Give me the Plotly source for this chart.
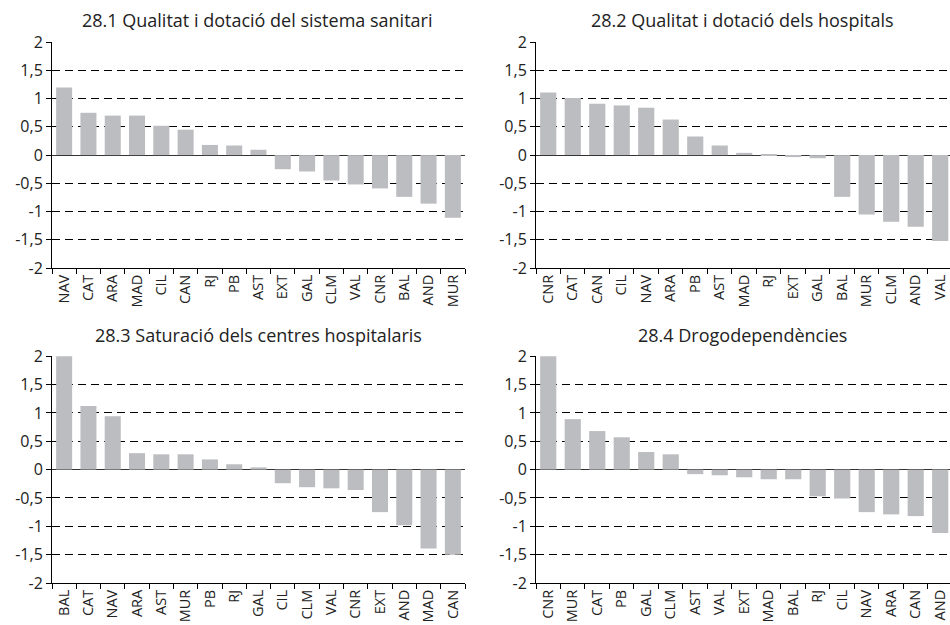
import plotly.graph_objects as go

# ---- data ----
titles = [
    "28.1 Qualitat i dotació del sistema sanitari",
    "28.2 Qualitat i dotació dels hospitals",
    "28.3 Saturació dels centres hospitalaris",
    "28.4 Drogodependències",
]

cats1 = ["NAV", "CAT", "ARA", "MAD", "CIL", "CAN", "RJ", "PB", "AST", "EXT", "GAL", "CLM", "VAL", "CNR", "BAL", "AND", "MUR"]
vals1 = [1.20, 0.75, 0.70, 0.70, 0.52, 0.45, 0.18, 0.17, 0.095, -0.25, -0.29, -0.45, -0.52, -0.59, -0.74, -0.86, -1.11]

cats2 = ["CNR", "CAT", "CAN", "CIL", "NAV", "ARA", "PB", "AST", "MAD", "RJ", "EXT", "GAL", "BAL", "MUR", "CLM", "AND", "VAL"]
vals2 = [1.11, 1.01, 0.91, 0.88, 0.84, 0.63, 0.33, 0.17, 0.04, 0.02, -0.035, -0.055, -0.74, -1.05, -1.18, -1.27, -1.52]

cats3 = ["BAL", "CAT", "NAV", "ARA", "AST", "MUR", "PB", "RJ", "GAL", "CIL", "CLM", "VAL", "CNR", "EXT", "AND", "MAD", "CAN"]
vals3 = [2.0, 1.12, 0.94, 0.29, 0.27, 0.27, 0.18, 0.094, 0.04, -0.24, -0.31, -0.33, -0.36, -0.75, -0.98, -1.39, -1.50]

cats4 = ["CNR", "MUR", "CAT", "PB", "GAL", "CLM", "AST", "VAL", "EXT", "MAD", "BAL", "RJ", "CIL", "NAV", "ARA", "CAN", "AND"]
vals4 = [2.0, 0.89, 0.68, 0.57, 0.31, 0.27, -0.08, -0.10, -0.135, -0.17, -0.17, -0.47, -0.51, -0.75, -0.79, -0.82, -1.12]

ytick_vals = [2, 1.5, 1, 0.5, 0, -0.5, -1, -1.5, -2]
ytick_text = ["2", "1,5", "1", "0,5", "0", "-0,5", "-1", "-1,5", "-2"]

# ---- figure ----
W, H = 950, 625
BAR = "#bcbdc0"
FONT = "Open Sans"

# pixel layout of plot areas (left, right, top, bottom)
boxes = [
    (52, 465, 42, 268),
    (536, 950, 42, 268),
    (52, 465, 356, 583),
    (536, 950, 356, 583),
]
title_pos = [(257, 20), (742, 20), (258, 335), (742, 335)]
xend = [16.5, 16.4, 16.5, 16.4]

fig = go.Figure()
all_cats = [cats1, cats2, cats3, cats4]
all_vals = [vals1, vals2, vals3, vals4]

for i in range(4):
    n = "" if i == 0 else str(i + 1)
    fig.add_trace(go.Bar(
        x=all_cats[i], y=all_vals[i], xaxis="x" + n, yaxis="y" + n,
        marker=dict(color=BAR, line=dict(width=0)), width=0.66,
        showlegend=False, hoverinfo="x+y",
    ))
    l, r, t, b = boxes[i]
    fig.layout["xaxis" + n] = dict(
        domain=[l / W, r / W], anchor="y" + n, type="category",
        range=[-0.5, xend[i]],
        showline=True, linecolor="#000", linewidth=1,
        ticks="outside", tickson="boundaries", ticklen=5, tickcolor="#000",
        tickangle=-90, tickfont=dict(family=FONT, size=14.5, color="#222"),
        showgrid=False, zeroline=False, fixedrange=True, automargin=False,
    )
    fig.layout["yaxis" + n] = dict(
        domain=[1 - b / H, 1 - t / H], anchor="x" + n,
        range=[-2, 2.004],
        tickvals=ytick_vals, ticktext=ytick_text,
        showline=True, linecolor="#000", linewidth=1,
        ticks="outside", ticklen=5, tickcolor="#000",
        tickfont=dict(family=FONT, size=16, color="#222"),
        showgrid=True, gridcolor="#000", gridwidth=1, griddash="8px,5px",
        zeroline=True, zerolinecolor="#333", zerolinewidth=1,
        fixedrange=True, automargin=False,
    )
    tx, ty = title_pos[i]
    fig.add_annotation(
        text=titles[i], x=tx / W, y=1 - ty / H,
        xref="paper", yref="paper",
        xanchor="center", yanchor="middle", showarrow=False,
        font=dict(family=FONT, size=18, color="#222"),
    )

fig.update_layout(
    width=W, height=H,
    margin=dict(l=0, r=0, t=0, b=0, autoexpand=False),
    paper_bgcolor="white", plot_bgcolor="white",
    bargap=0.34,
)

fig.write_html(
    "out.html",
    config={"displayModeBar": False},
    post_script="document.body.style.margin='0px';document.body.style.overflow='hidden';",
)
